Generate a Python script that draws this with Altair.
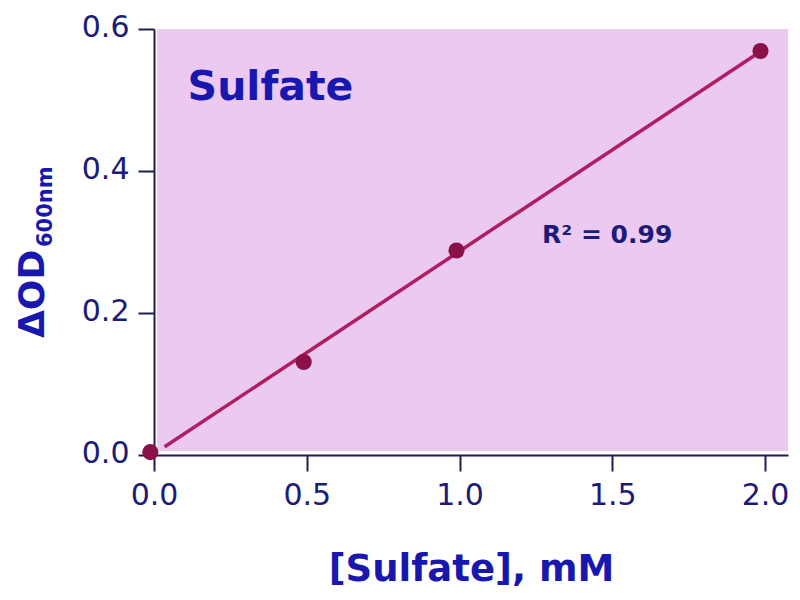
import altair as alt
import pandas as pd

# data
conc = [-0.012, 0.49, 0.99, 1.985]
delta_od = [0.004, 0.131, 0.288, 0.569]
x_ticks = [0.0, 0.5, 1.0, 1.5, 2.0]
y_ticks = [0.0, 0.2, 0.4, 0.6]
fit_extent = [0.035, 1.985]

panel_label = ["Sulfate"]
panel_label_x = [0.11]
panel_label_y = [0.50]
r2_label = ["R\u00b2 = 0.99"]
r2_x = [1.27]
r2_y = [0.298]

df = pd.DataFrame({"x": conc, "y": delta_od})

W, H = 634, 426
FONT = "DejaVu Sans"
NAVY = "#1c1c78"
BLUE = "#1818b0"
AXIS = "#1e1e4e"

xs = alt.Scale(domain=[0, 2.075], nice=False, zero=False)
ys = alt.Scale(domain=[0, 0.6], nice=False)

x_axis = alt.Axis(values=x_ticks, format=".1f", title="[Sulfate], mM",
                  labelFont=FONT, labelFontSize=30, labelColor=NAVY,
                  labelPadding=9, labelFlush=False, labelOverlap=False,
                  tickSize=16, tickWidth=2, tickColor=AXIS,
                  domainColor=AXIS, domainWidth=2, grid=False,
                  titleFont=FONT, titleFontSize=37, titleFontWeight="bold",
                  titleColor=BLUE, titleBaseline="alphabetic", titleY=125)
y_axis = alt.Axis(values=y_ticks, format=".1f", title=None,
                  labelFont=FONT, labelFontSize=30, labelColor=NAVY,
                  labelPadding=9, labelOffset=-2, labelFlush=False,
                  labelOverlap=False, tickSize=16, tickWidth=2,
                  tickColor=AXIS, domainColor=AXIS, domainWidth=2, grid=False)

base = alt.Chart(df)

bg = alt.Chart(pd.DataFrame({"a": [0]})).mark_rect(color="#ebc9f1").encode(
    x=alt.value(3), x2=alt.value(W), y=alt.value(0), y2=alt.value(H - 4))

line = base.transform_regression("x", "y", extent=fit_extent).mark_line(
    color="#b01e62", strokeWidth=3.5).encode(
    x=alt.X("x:Q", scale=xs, axis=x_axis),
    y=alt.Y("y:Q", scale=ys, axis=y_axis))

pts = base.mark_circle(color="#8a1048", opacity=1, size=260).encode(
    x=alt.X("x:Q", scale=xs), y=alt.Y("y:Q", scale=ys))

lab = alt.Chart(pd.DataFrame({"t": panel_label, "x": panel_label_x, "y": panel_label_y})).mark_text(
    font=FONT, fontSize=41, fontWeight="bold", color=BLUE, align="left",
    baseline="alphabetic").encode(
    x=alt.X("x:Q", scale=xs), y=alt.Y("y:Q", scale=ys), text="t:N")

r2 = alt.Chart(pd.DataFrame({"t": r2_label, "x": r2_x, "y": r2_y})).mark_text(
    font=FONT, fontSize=25, fontWeight="bold", color=NAVY, align="left",
    baseline="alphabetic").encode(
    x=alt.X("x:Q", scale=xs), y=alt.Y("y:Q", scale=ys), text="t:N")

ytitle_main = alt.Chart(pd.DataFrame({"t": ["\u0394OD"]})).mark_text(
    font=FONT, fontSize=36, fontWeight="bold", color=BLUE, align="left",
    baseline="alphabetic", angle=270).encode(
    x=alt.value(-110), y=alt.value(309), text="t:N")
ytitle_sub = alt.Chart(pd.DataFrame({"t": ["600nm"]})).mark_text(
    font=FONT, fontSize=21, fontWeight="bold", color=BLUE, align="left",
    baseline="alphabetic", angle=270).encode(
    x=alt.value(-102), y=alt.value(218), text="t:N")

chart = alt.layer(bg, line, pts, lab, r2, ytitle_main, ytitle_sub).properties(
    width=W, height=H,
    autosize=alt.AutoSizeParams(type="none"),
    padding={"left": 146, "top": 21, "right": 4, "bottom": 137},
    background="white",
).configure_view(stroke=None)

chart.save("out.html", embed_options={"renderer": "svg", "actions": False})
